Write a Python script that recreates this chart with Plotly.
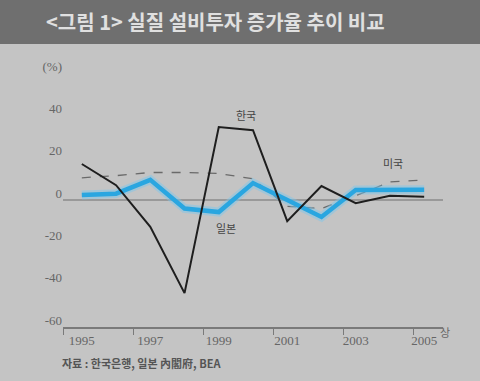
import plotly.graph_objects as go

years = [1995, 1996, 1997, 1998, 1999, 2000, 2001, 2002, 2003, 2004, 2005]
korea = [17, 7, -12.7, -44, 34.5, 33, -10, 6.6, -1.5, 2, 1.5]
japan = [2.4, 3, 9.5, -4, -5.7, 8, 0, -8, 4.7, 4.9, 4.9]
usa = [10.5, 11.5, 13, 13, 12.5, 10, -3, -4, 2, 8.5, 9.5]

y_tickvals = [-60, -40, -20, 0, 20, 40, 60]
y_ticktext = ["-60", "-40", "-20", "0", "20", "40", "(%)"]
x_tickvals = [1995, 1997, 1999, 2001, 2003, 2005]
x_ticktext = ["1995", "1997", "1999", "2001", "2003", "2005"]

KFONT = "Noto Sans CJK KR"
NFONT = "Liberation Serif"
W, H = 480, 381
L, R, T, B = 63, 37, 73, 54
PH = H - T - B
PW = W - L - R


def py(px):
    return 1 - (px - T) / PH


def pxx(px):
    return (px - L) / PW


fig = go.Figure()
fig.add_trace(go.Scatter(x=years, y=usa, mode="lines",
                         line=dict(color="#6a6a6a", width=1.3, dash="dash"),
                         hoverinfo="skip", showlegend=False))
fig.add_trace(go.Scatter(x=years, y=japan, mode="lines",
                         line=dict(color="rgba(120,200,240,0.45)", width=9),
                         hoverinfo="skip", showlegend=False))
fig.add_trace(go.Scatter(x=years, y=japan, mode="lines",
                         line=dict(color="#2aa6e0", width=4.5), showlegend=False))
fig.add_trace(go.Scatter(x=years, y=korea, mode="lines",
                         line=dict(color="#1e1e1e", width=2), showlegend=False))

shapes = [
    dict(type="rect", xref="paper", yref="paper", x0=pxx(0), x1=pxx(W),
         y0=py(44), y1=py(0), fillcolor="#6f6f6f", line=dict(width=0), layer="below"),
]

annotations = [
    dict(text="<b><그림 1> 실질 설비투자 증가율 추이 비교</b>", xref="paper", yref="paper",
         x=pxx(44), y=py(22), xanchor="left", yanchor="middle", showarrow=False,
         font=dict(family=KFONT, size=20, color="#e0e0e0")),
    dict(text="한국", x=1999.8, y=40, xref="x", yref="y", showarrow=False,
         font=dict(family=KFONT, size=11, color="#444")),
    dict(text="일본", x=1999.2, y=-13, xref="x", yref="y", showarrow=False,
         font=dict(family=KFONT, size=11, color="#444")),
    dict(text="미국", x=2004.1, y=17.5, xref="x", yref="y", showarrow=False,
         font=dict(family=KFONT, size=11, color="#444")),
    dict(text="상", xref="paper", yref="paper", x=pxx(452), y=py(342),
         showarrow=False, font=dict(family=KFONT, size=11, color="#666")),
    dict(text="<b>자료 : 한국은행, 일본 內閣府, BEA</b>", xref="paper", yref="paper",
         x=pxx(60), y=py(363), xanchor="left", yanchor="middle", showarrow=False,
         font=dict(family=KFONT, size=11, color="#555")),
]

fig.update_layout(
    width=W, height=H,
    margin=dict(l=L, r=R, t=T, b=B, pad=0),
    paper_bgcolor="#c4c4c4", plot_bgcolor="#c4c4c4",
    shapes=shapes, annotations=annotations,
    showlegend=False,
    xaxis=dict(range=[1994.45, 2005.55], tickvals=x_tickvals, ticktext=x_ticktext,
               ticks="", showgrid=False, zeroline=False,
               showline=True, linecolor="#7a7a7a", linewidth=2,
               tickfont=dict(family=NFONT, size=13, color="#666"),
               minor=dict(ticks="outside", tick0=1994.45, dtick=2.05, ticklen=6,
                          tickcolor="#7a7a7a", tickwidth=1, showgrid=False)),
    yaxis=dict(range=[-60, 60], tickvals=y_tickvals, ticktext=y_ticktext,
               ticks="", showgrid=False, showline=False,
               zeroline=True, zerolinecolor="#999999", zerolinewidth=2,
               ticklabelshift=-7,
               tickfont=dict(family=NFONT, size=13, color="#666")),
)

fig.write_html("out.html")
